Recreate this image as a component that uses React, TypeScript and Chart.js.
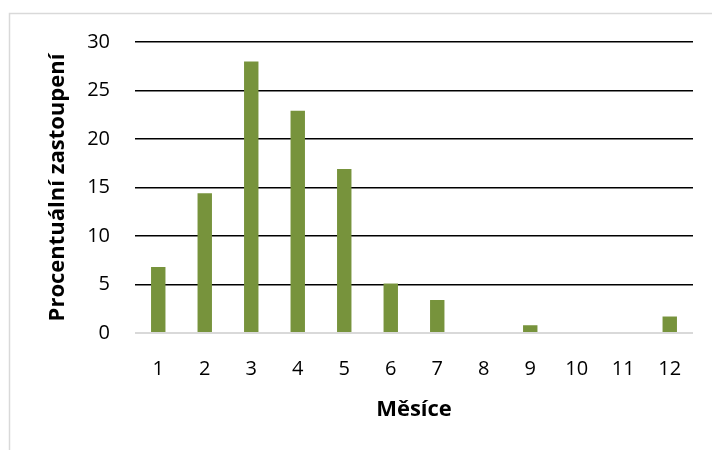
import React, { useEffect, useRef } from "react";
import { Chart, registerables } from "chart.js";

Chart.register(...registerables);

const months = ["1", "2", "3", "4", "5", "6", "7", "8", "9", "10", "11", "12"];
const shares = [6.8, 14.4, 28.0, 22.9, 16.9, 5.1, 3.4, 0, 0.8, 0, 0, 1.7];
const yTicks = [0, 5, 10, 15, 20, 25, 30];

const FONT = "'Open Sans', 'Noto Sans', sans-serif";

// Light frame around the whole chart, open on the right and bottom edges
const framePlugin = {
  id: "frame",
  beforeDraw(chart: Chart) {
    const ctx = chart.ctx;
    ctx.save();
    ctx.fillStyle = "#ffffff";
    ctx.fillRect(0, 0, chart.width, chart.height);
    ctx.strokeStyle = "#d9d9d9";
    ctx.lineWidth = 1.5;
    ctx.strokeRect(9.5, 13.5, chart.width + 10, chart.height + 10);
    ctx.restore();
  },
};

export default function App() {
  const ref = useRef<HTMLCanvasElement | null>(null);

  useEffect(() => {
    if (!ref.current) return;
    const chart = new Chart(ref.current, {
      type: "bar",
      data: {
        labels: months,
        datasets: [
          {
            data: shares,
            backgroundColor: "#77933c",
            borderWidth: 0,
            barPercentage: 0.31,
            categoryPercentage: 1,
          },
        ],
      },
      options: {
        animation: false,
        responsive: false,
        maintainAspectRatio: false,
        layout: { padding: { left: 0, right: 19, top: 42, bottom: 0 } },
        plugins: {
          legend: { display: false },
          tooltip: { enabled: false },
        },
        scales: {
          x: {
            grid: { display: false, drawTicks: false },
            border: { display: false },
            ticks: {
              color: "#000000",
              padding: 24,
              font: { family: FONT, size: 20 },
              maxRotation: 0,
            },
            title: {
              display: true,
              text: "Měsíce",
              color: "#000000",
              font: { family: FONT, size: 22, weight: "bold" },
              padding: { top: 0, bottom: 27 },
            },
            afterFit(scale: any) {
              scale.height = 117;
            },
          },
          y: {
            min: 0,
            max: 30,
            afterBuildTicks(scale: any) {
              scale.ticks = yTicks.map((v) => ({ value: v }));
            },
            grid: {
              drawTicks: false,
              color: (ctx: any) => (ctx.tick && ctx.tick.value === 0 ? "#d9d9d9" : "#000000"),
              lineWidth: (ctx: any) => (ctx.tick && ctx.tick.value === 0 ? 2 : 1.5),
            },
            border: { display: false },
            ticks: {
              color: "#000000",
              padding: 25,
              font: { family: FONT, size: 20 },
            },
            title: {
              display: true,
              text: "Procentuální zastoupení",
              color: "#000000",
              font: { family: FONT, size: 22, weight: "bold" },
              padding: { top: 45, bottom: 0 },
            },
            afterFit(scale: any) {
              scale.width = 135;
            },
          },
        },
      },
      plugins: [framePlugin],
    });
    return () => chart.destroy();
  }, []);

  return (
    <div style={{ position: "absolute", left: 0, top: 0, width: 712, height: 450 }}>
      <canvas ref={ref} width={712} height={450} />
    </div>
  );
}
